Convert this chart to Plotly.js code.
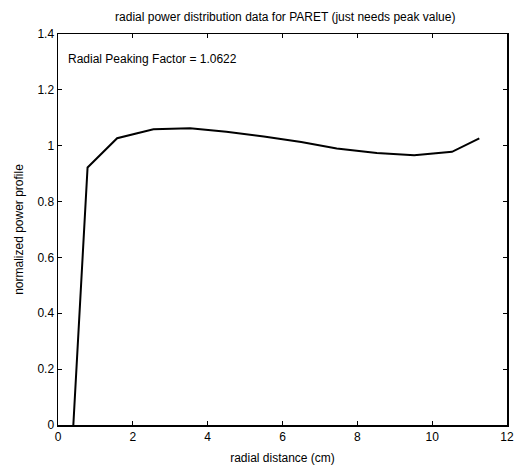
<!DOCTYPE html>
<html><head><meta charset="utf-8">
<script src="https://cdn.plot.ly/plotly-3.0.1.min.js"></script>
<style>html,body{margin:0;padding:0;background:#fff}</style>
</head><body>
<div id="chart" style="width:514px;height:465px"></div>
<script>
const radius = [0.41, 0.79, 1.58, 2.55, 3.53, 4.5, 5.5, 6.5, 7.45, 8.52, 9.52, 10.53, 11.26];
const power = [0, 0.922, 1.027, 1.059, 1.0622, 1.05, 1.033, 1.013, 0.99, 0.974, 0.966, 0.978, 1.026];
const xTicks = [0, 2, 4, 6, 8, 10, 12];
const yTicks = [0, 0.2, 0.4, 0.6, 0.8, 1, 1.2, 1.4];
const yTickText = ['0', '0.2', '0.4', '0.6', '0.8', '1', '1.2', '1.4'];
const annText = 'Radial Peaking Factor = 1.0622';

const axisCommon = {
  showline: true, linecolor: '#000', linewidth: 1.5, mirror: 'allticks',
  ticks: 'inside', ticklen: 4, tickcolor: '#000', tickwidth: 1,
  showgrid: false, zeroline: false,
  tickfont: {family: 'Arial, Liberation Sans, sans-serif', size: 12, color: '#000'}
};
const layout = {
  width: 514, height: 465,
  margin: {l: 58, r: 7, t: 34, b: 40},
  paper_bgcolor: '#fff', plot_bgcolor: '#fff',
  showlegend: false,
  title: {text: 'radial power distribution data for PARET (just needs peak value)',
    font: {family: 'Arial, Liberation Sans, sans-serif', size: 12, color: '#000'},
    x: 0.555, xanchor: 'center', y: 0.963, yanchor: 'middle'},
  xaxis: Object.assign({}, axisCommon, {range: [0, 12], tickvals: xTicks,
    title: {text: 'radial distance (cm)', standoff: 10,
      font: {family: 'Arial, Liberation Sans, sans-serif', size: 12, color: '#000'}}}),
  yaxis: Object.assign({}, axisCommon, {range: [0, 1.4], tickvals: yTicks, ticktext: yTickText,
    title: {text: 'normalized power profile', standoff: 11,
      font: {family: 'Arial, Liberation Sans, sans-serif', size: 12, color: '#000'}}}),
  annotations: [{xref: 'x', yref: 'y', x: 0.22, y: 1.31, xanchor: 'left', yanchor: 'middle',
    text: annText, showarrow: false,
    font: {family: 'Arial, Liberation Sans, sans-serif', size: 12, color: '#000'}}]
};
Plotly.newPlot('chart', [{x: radius, y: power, type: 'scatter', mode: 'lines',
  line: {color: '#000', width: 2}, hoverinfo: 'skip'}], layout, {staticPlot: true});
</script>
</body></html>
